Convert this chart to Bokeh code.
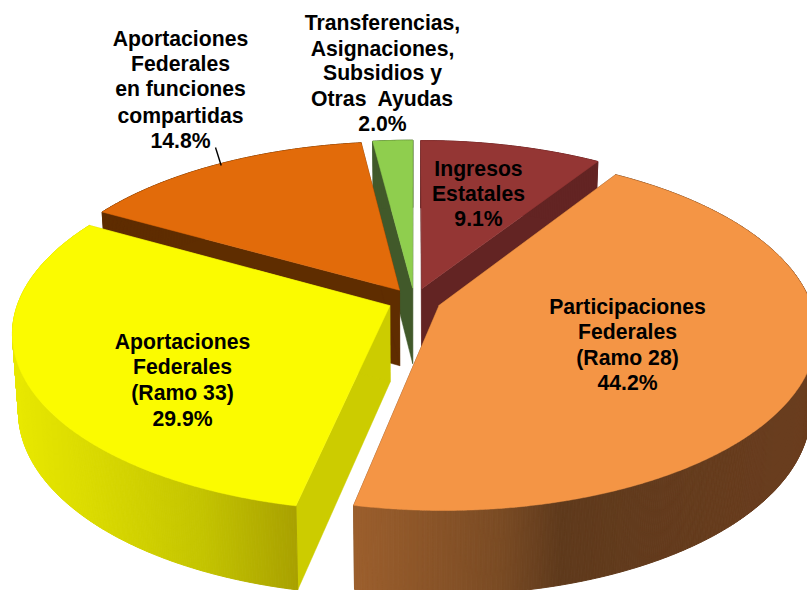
import numpy as np
from bokeh.plotting import figure
from bokeh.embed import file_html
from bokeh.resources import INLINE
from bokeh.core.properties import value

# ---- data (clockwise from 12 o'clock) ----
categories = ["Ingresos Estatales", "Participaciones Federales (Ramo 28)",
              "Aportaciones Federales (Ramo 33)",
              "Aportaciones Federales en funciones compartidas",
              "Transferencias, Asignaciones, Subsidios y Otras Ayudas"]
shares = [9.1, 44.2, 29.9, 14.8, 2.0]
percent_labels = ["9.1%", "44.2%", "29.9%", "14.8%", "2.0%"]
top_colors = ["#943634", "#F49545", "#FBFB00", "#E26B0A", "#8FCE4E"]
cut_colors = ["#632423", "#633A1C", "#CCCC00", "#5F2D00", "#41592A"]
label_lines = [
    ["Ingresos", "Estatales"],
    ["Participaciones", "Federales", "(Ramo 28)"],
    ["Aportaciones", "Federales", "(Ramo 33)"],
    ["Aportaciones", "Federales", "en funciones", "compartidas"],
    ["Transferencias,", "Asignaciones,", "Subsidios y", "Otras\u00a0 Ayudas"],
]

# ---- layout ----
W, H = 807, 590
CX, CY = 413.8, 300.0      # projected pie centre
BX, AY = 371.0, 173.3      # ground plane scale
PERSP = 0.148              # perspective strength
EXPLODE = 0.072
DEPTH, DEPTH_V = 76.0, 8.0
LOWER_SCALE = 0.985
label_anchor = [(478, [168, 193, 218]),
                (627, [306, 331, 357, 382]),
                (182, [341, 366, 392, 418]),
                (180, [38, 63, 88, 115, 140]),
                (382, [22, 48, 72, 98, 123])]
wall_stops = {
    0: [(420, "#632423"), (620, "#632423")],
    1: [(352, "#9C5F2D"), (500, "#7A4B24"), (560, "#5F3A1C"), (807, "#6A3D1E")],
    2: [(15, "#E8E800"), (100, "#D8D800"), (200, "#C4C400"), (297, "#A8A000")],
    3: [(100, "#5F2D00"), (400, "#5F2D00")],
    4: [(370, "#41592A"), (415, "#41592A")],
}
draw_order = [0, 4, 3, 2, 1]


def top_point(u, v):
    w = 1 + PERSP * v
    return CX + BX * u / w, CY - AY * v / w


def low_point(u, v):
    x, y = top_point(u, v)
    return CX + (x - CX) * LOWER_SCALE, y + DEPTH - DEPTH_V * v


def hex_rgb(c):
    return np.array([int(c[i:i + 2], 16) for i in (1, 3, 5)], dtype=float)


def wall_color(idx, x):
    stops = wall_stops[idx]
    xs = [s[0] for s in stops]
    rgb = np.array([hex_rgb(s[1]) for s in stops])
    c = [np.interp(x, xs, rgb[:, k]) for k in range(3)]
    return "#%02X%02X%02X" % tuple(int(round(q)) for q in c)


p = figure(width=W, height=H, x_range=(0, W), y_range=(H, 0),
           output_backend="svg", toolbar_location=None, min_border=0,
           background_fill_color="white", border_fill_color="white")
p.axis.visible = False
p.grid.visible = False
p.outline_line_color = None

edges = np.cumsum([0] + shares) * 3.6
for i in draw_order:
    a0, a1 = np.radians(edges[i]), np.radians(edges[i + 1])
    mid = (a0 + a1) / 2
    ou, ov = EXPLODE * np.sin(mid), EXPLODE * np.cos(mid)
    th = np.linspace(a0, a1, max(8, int(3 * np.degrees(a1 - a0))))
    us, vs = ou + np.sin(th), ov + np.cos(th)

    # two cut faces
    for uu, vv in ((us[0], vs[0]), (us[-1], vs[-1])):
        x0, y0 = top_point(ou, ov)
        x1, y1 = top_point(uu, vv)
        x2, y2 = low_point(uu, vv)
        x3, y3 = low_point(ou, ov)
        p.patch([x0, x1, x2, x3], [y0, y1, y2, y3], fill_color=cut_colors[i],
                line_color=cut_colors[i], line_width=0.5)

    # outer curved wall, split in strips for its shading
    xs_list, ys_list, cols = [], [], []
    for j in range(len(th) - 1):
        xa, ya = top_point(us[j], vs[j])
        xb, yb = top_point(us[j + 1], vs[j + 1])
        xc, yc = low_point(us[j + 1], vs[j + 1])
        xd, yd = low_point(us[j], vs[j])
        xs_list.append([xa, xb, xc, xd])
        ys_list.append([ya, yb, yc, yd])
        cols.append(wall_color(i, (xa + xb) / 2))
    p.patches(xs_list, ys_list, fill_color=cols, line_color=cols, line_width=1.0)

    # top face
    tx, ty = top_point(us, vs)
    ax, ay = top_point(ou, ov)
    p.patch([ax] + list(tx), [ay] + list(ty), fill_color=top_colors[i],
            line_color=top_colors[i], line_width=0.5)

# leader line of the 14.8% label
p.line([215, 220.7], [147, 165], line_color="black", line_width=1.4)

for i in range(len(shares)):
    cxl, ys = label_anchor[i]
    lines = label_lines[i] + [percent_labels[i]]
    p.text([cxl] * len(lines), ys, text=lines, text_align="center",
           text_baseline="middle", text_color="black",
           text_font=value("Liberation Sans"), text_font_style="bold",
           text_font_size="21.2px")

open("out.html", "w").write(file_html(p, INLINE))
